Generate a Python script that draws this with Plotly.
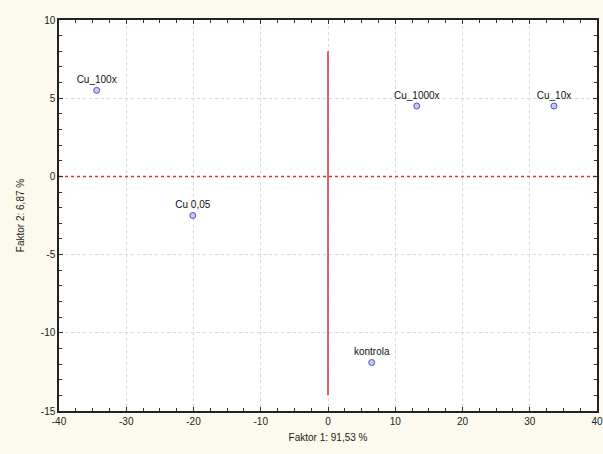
import plotly.graph_objects as go

labels = ["Cu_100x", "Cu_1000x", "Cu_10x", "Cu 0,05", "kontrola"]
f1 = [-34.4, 13.2, 33.6, -20.1, 6.5]
f2 = [5.5, 4.5, 4.5, -2.5, -11.9]

x_ticks = [-40, -30, -20, -10, 0, 10, 20, 30, 40]
x_ticktext = ["-40", "-30", "-20", "-10", "0", "10", "20", "30", "40"]
y_ticks = [-15, -10, -5, 0, 5, 10]
y_ticktext = ["-15", "-10", "-5", "0", "5", "10"]

fig = go.Figure()

# reference lines
fig.add_trace(go.Scatter(x=[0, 0], y=[-14, 8], mode="lines",
                         line=dict(color="#e03030", width=1.5), hoverinfo="skip", showlegend=False))
fig.add_trace(go.Scatter(x=[-40, 40], y=[0, 0], mode="lines",
                         line=dict(color="#e03030", width=1.5, dash="dot"), hoverinfo="skip", showlegend=False))

fig.add_trace(go.Scatter(
    x=f1, y=f2, mode="markers+text", text=labels, textposition="top center",
    textfont=dict(family="Arial", size=10, color="#111111"),
    marker=dict(symbol="circle", size=6, color="#c8c8f8", line=dict(color="#5050d0", width=1)),
    showlegend=False))

axis_common = dict(
    showline=True, linecolor="#222222", linewidth=1.5, mirror="allticks",
    ticks="inside", ticklen=4, tickcolor="#333333",
    showgrid=True, gridcolor="#d8d8d8", griddash="3px,3px", gridwidth=1,
    zeroline=False, automargin=False,
    tickfont=dict(family="Arial", size=10, color="#222222"),
)

fig.update_layout(
    width=603, height=454,
    margin=dict(l=59, r=6, t=20, b=43),
    paper_bgcolor="#fcf9ee", plot_bgcolor="#ffffff",
    xaxis=dict(range=[-40, 40], tickvals=x_ticks, ticktext=x_ticktext,
               title=dict(text="Faktor 1: 91,53 %", font=dict(family="Arial", size=10, color="#222222"), standoff=8),
               minor=dict(dtick=2.5, ticks="inside", ticklen=3, tickcolor="#333333", showgrid=False),
               **axis_common),
    yaxis=dict(range=[-15, 10], tickvals=y_ticks, ticktext=y_ticktext,
               title=dict(text="Faktor 2: 6,87 %", font=dict(family="Arial", size=10, color="#222222"), standoff=14),
               minor=dict(dtick=1, ticks="inside", ticklen=3, tickcolor="#333333", showgrid=False),
               **axis_common),
)

fig.write_html("out.html", config={"displayModeBar": False},
               post_script="document.body.style.margin='0';document.body.style.background='#fcf9ee';")
